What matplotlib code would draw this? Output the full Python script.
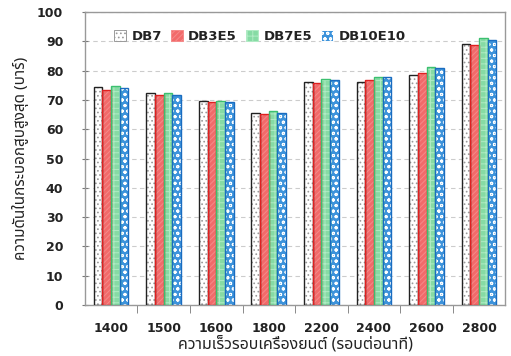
import numpy as np
import matplotlib
matplotlib.use("Agg")
import matplotlib.pyplot as plt
from matplotlib import font_manager
from matplotlib.patches import Patch

# ความดันในกระบอกสูบสูงสุด ของแต่ละเชื้อเพลิง ที่ความเร็วรอบต่างๆ
speeds = ["1400", "1500", "1600", "1800", "2200", "2400", "2600", "2800"]
db7 = [74.5, 72.3, 69.7, 65.5, 76.1, 76.1, 78.6, 89.0]
db3e5 = [73.4, 71.6, 69.4, 65.2, 75.9, 76.8, 79.3, 88.8]
db7e5 = [74.7, 72.4, 69.8, 66.1, 77.3, 78.0, 81.2, 91.2]
db10e10 = [74.2, 71.6, 69.3, 65.7, 76.9, 78.0, 80.9, 90.6]

fuels = ["DB7", "DB3E5", "DB7E5", "DB10E10"]

# หาฟอนต์ที่มีอักษรไทย
names = {f.name for f in font_manager.fontManager.ttflist}
thai = [n for n in ["Noto Sans Thai", "Noto Sans Thai UI", "Loma", "Garuda",
                    "Tlwg Typo", "Sawasdee", "Umpush", "Kinnari", "Norasi"] if n in names]
thai_family = thai + ["DejaVu Sans"]

plt.rcParams["hatch.linewidth"] = 0.7

fig = plt.figure(figsize=(5.11, 3.56), dpi=100)
ax = fig.add_axes([0.166, 0.143, 0.823, 0.823])

x = np.arange(len(speeds))
w = 0.165
offs = (np.arange(4) - 1.5) * w

styles = [
    dict(face="white", hatch="....", hcol="#9a9a9a", edge="#222222"),
    dict(face="#f26a6a", hatch="//////", hcol="#f58a8a", edge="#e02020"),
    dict(face="#86dba4", hatch="+++", hcol="#b0ebc4", edge="#3cc070"),
    dict(face="#3d93db", hatch="ooo", hcol="#ffffff", edge="#1a6cc0"),
]
series = [db7, db3e5, db7e5, db10e10]

handles = []
for vals, off, st, name in zip(series, offs, styles, fuels):
    ax.bar(x + off, vals, w, color=st["face"], hatch=st["hatch"],
           edgecolor=st["hcol"], linewidth=0, zorder=2)
    ax.bar(x + off, vals, w, fill=False, edgecolor=st["edge"], linewidth=1.0, zorder=3)
    handles.append(Patch(facecolor=st["face"], hatch=st["hatch"], edgecolor=st["hcol"],
                         linewidth=0.7))

ax.set_ylim(0, 100)
ax.set_xlim(-0.5, len(speeds) - 0.5)
ax.set_yticks(range(0, 101, 10))
ax.set_xticks(x)
ax.set_xticklabels(speeds)
ax.set_xticks(np.arange(len(speeds) - 1) + 0.5, minor=True)
ax.tick_params(axis="x", which="major", length=0, pad=12)
ax.tick_params(axis="x", which="minor", length=6, color="#777777", direction="out")
ax.tick_params(axis="y", length=5, color="#777777", direction="inout", pad=13)
for lab in ax.get_xticklabels() + ax.get_yticklabels():
    lab.set_fontweight("bold")
    lab.set_fontsize(9)
    lab.set_color("#222222")

ax.grid(axis="y", linestyle=(0, (4, 3)), color="#cccccc", linewidth=0.8, zorder=0)
ax.set_axisbelow(True)
for s in ax.spines.values():
    s.set_color("#999999")
    s.set_linewidth(1.0)

ax.set_ylabel("ความดันในกระบอกสูบสูงสุด (บาร์)", family=thai_family, fontsize=11,
              color="#222222", labelpad=6)
ax.set_xlabel("ความเร็วรอบเครื่องยนต์ (รอบต่อนาที)", family=thai_family, fontsize=11.5,
              color="#222222", labelpad=1)

leg = ax.legend(handles, fuels, ncol=4, loc="upper left", bbox_to_anchor=(0.045, 0.975),
                frameon=False, fontsize=9.5, handlelength=0.9, handleheight=0.9,
                handletextpad=0.4, columnspacing=0.7, borderaxespad=0.4)
for t in leg.get_texts():
    t.set_fontweight("bold")
    t.set_color("#222222")

fig.savefig("out.png", dpi=100)
